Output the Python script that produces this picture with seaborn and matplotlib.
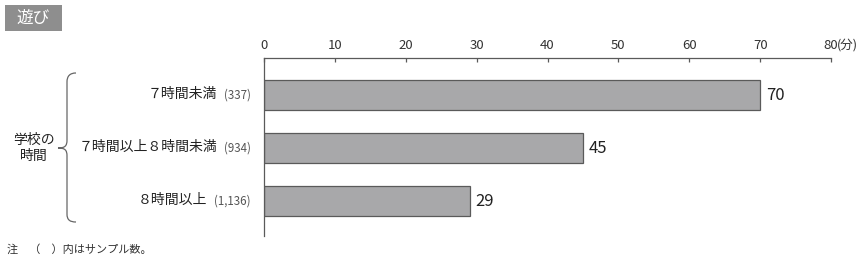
import matplotlib
matplotlib.use("Agg")
import matplotlib.pyplot as plt
import seaborn as sns
import pandas as pd
from matplotlib.path import Path
from matplotlib.patches import PathPatch, Rectangle

categories = ["７時間未満", "７時間以上８時間未満", "８時間以上"]
samples = ["(337)", "(934)", "(1,136)"]
values = [70, 45, 29]
ticks = [0, 10, 20, 30, 40, 50, 60, 70, 80]
tick_labels = ["0", "10", "20", "30", "40", "50", "60", "70", "80"]
title = "遊び"
group_label = "学校の\n時間"
unit = "(分)"
note = "注　（　）内はサンプル数。"

sns.set_theme(style="white")
plt.rcParams["font.family"] = ["Noto Sans CJK JP", "DejaVu Sans"]

W, H = 868, 271
fig = plt.figure(figsize=(W / 100, H / 100), dpi=100)

def fx(px):
    return px / W

def fy(py):
    return 1 - py / H

left, right, top, bottom = 264, 831, 57.7, 236
ax = fig.add_axes([fx(left), fy(bottom), fx(right) - fx(left), fy(top) - fy(bottom)])

df = pd.DataFrame({"cat": categories, "val": values})
sns.barplot(data=df, x="val", y="cat", orient="h", color="#a8a8aa", saturation=1,
            edgecolor="#5a5a5a", linewidth=0.9, width=0.57, ax=ax)

ax.set_xlim(0, 80)
ax.set_ylim(2.66, -0.704)
ax.set_xlabel("")
ax.set_ylabel("")
ax.xaxis.tick_top()
ax.set_xticks(ticks)
ax.set_xticklabels(tick_labels, fontsize=9.5, color="#333333")
ax.tick_params(axis="x", direction="in", length=3, width=0.9, color="#5a5a5a", pad=4)
ax.set_yticks([])
for s in ["right", "bottom"]:
    ax.spines[s].set_visible(False)
for s in ["top", "left"]:
    ax.spines[s].set_color("#5a5a5a")
    ax.spines[s].set_linewidth(0.9)

# unit label next to 80
ax.annotate(unit, xy=(80, 1), xycoords=("data", "axes fraction"), xytext=(4.5, 4.3),
            textcoords="offset points", ha="left", va="bottom", fontsize=9, color="#333333")

# value labels
ax.bar_label(ax.containers[0], labels=[str(v) for v in values], padding=4,
             fontsize=12, color="#222222")

# category labels
for i, (c, s) in enumerate(zip(categories, samples)):
    t = ax.annotate(s, xy=(0, i), xycoords="data", xytext=(-9.5, 0),
                    textcoords="offset points", ha="right", va="center",
                    fontsize=8.3, color="#555555")
    ax.annotate(c, xy=(0, 0.5), xycoords=t, xytext=(-5, 0.5),
                textcoords="offset points", ha="right", va="center",
                fontsize=10, color="#222222")

# group label and brace
fig.text(fx(34), fy(148), group_label, ha="center", va="center", fontsize=10,
         color="#222222", linespacing=1.2)
pts = [(76, 73), (70, 73), (67, 76), (67, 82), (67, 140), (67, 146), (65, 148), (58, 148),
       (65, 148), (67, 150), (67, 156), (67, 214), (67, 220), (70, 222), (76, 222)]
codes = [Path.MOVETO, Path.CURVE4, Path.CURVE4, Path.CURVE4, Path.LINETO,
         Path.CURVE4, Path.CURVE4, Path.CURVE4, Path.CURVE4, Path.CURVE4, Path.CURVE4,
         Path.LINETO, Path.CURVE4, Path.CURVE4, Path.CURVE4]
path = Path([(fx(x), fy(y)) for x, y in pts], codes)
fig.patches.append(PathPatch(path, transform=fig.transFigure, fill=False,
                             edgecolor="#666666", linewidth=0.9))

# title box
fig.patches.append(Rectangle((fx(5), fy(31)), fx(62) - fx(5), fy(5) - fy(31),
                             transform=fig.transFigure, facecolor="#8e8e8e",
                             edgecolor="none"))
fig.text(fx(33.5), fy(18.5), title, ha="center", va="center", fontsize=12,
         color="white")

# note
fig.text(fx(7), fy(249), note, ha="left", va="center", fontsize=8, color="#333333")

fig.savefig("out.png", dpi=100)
